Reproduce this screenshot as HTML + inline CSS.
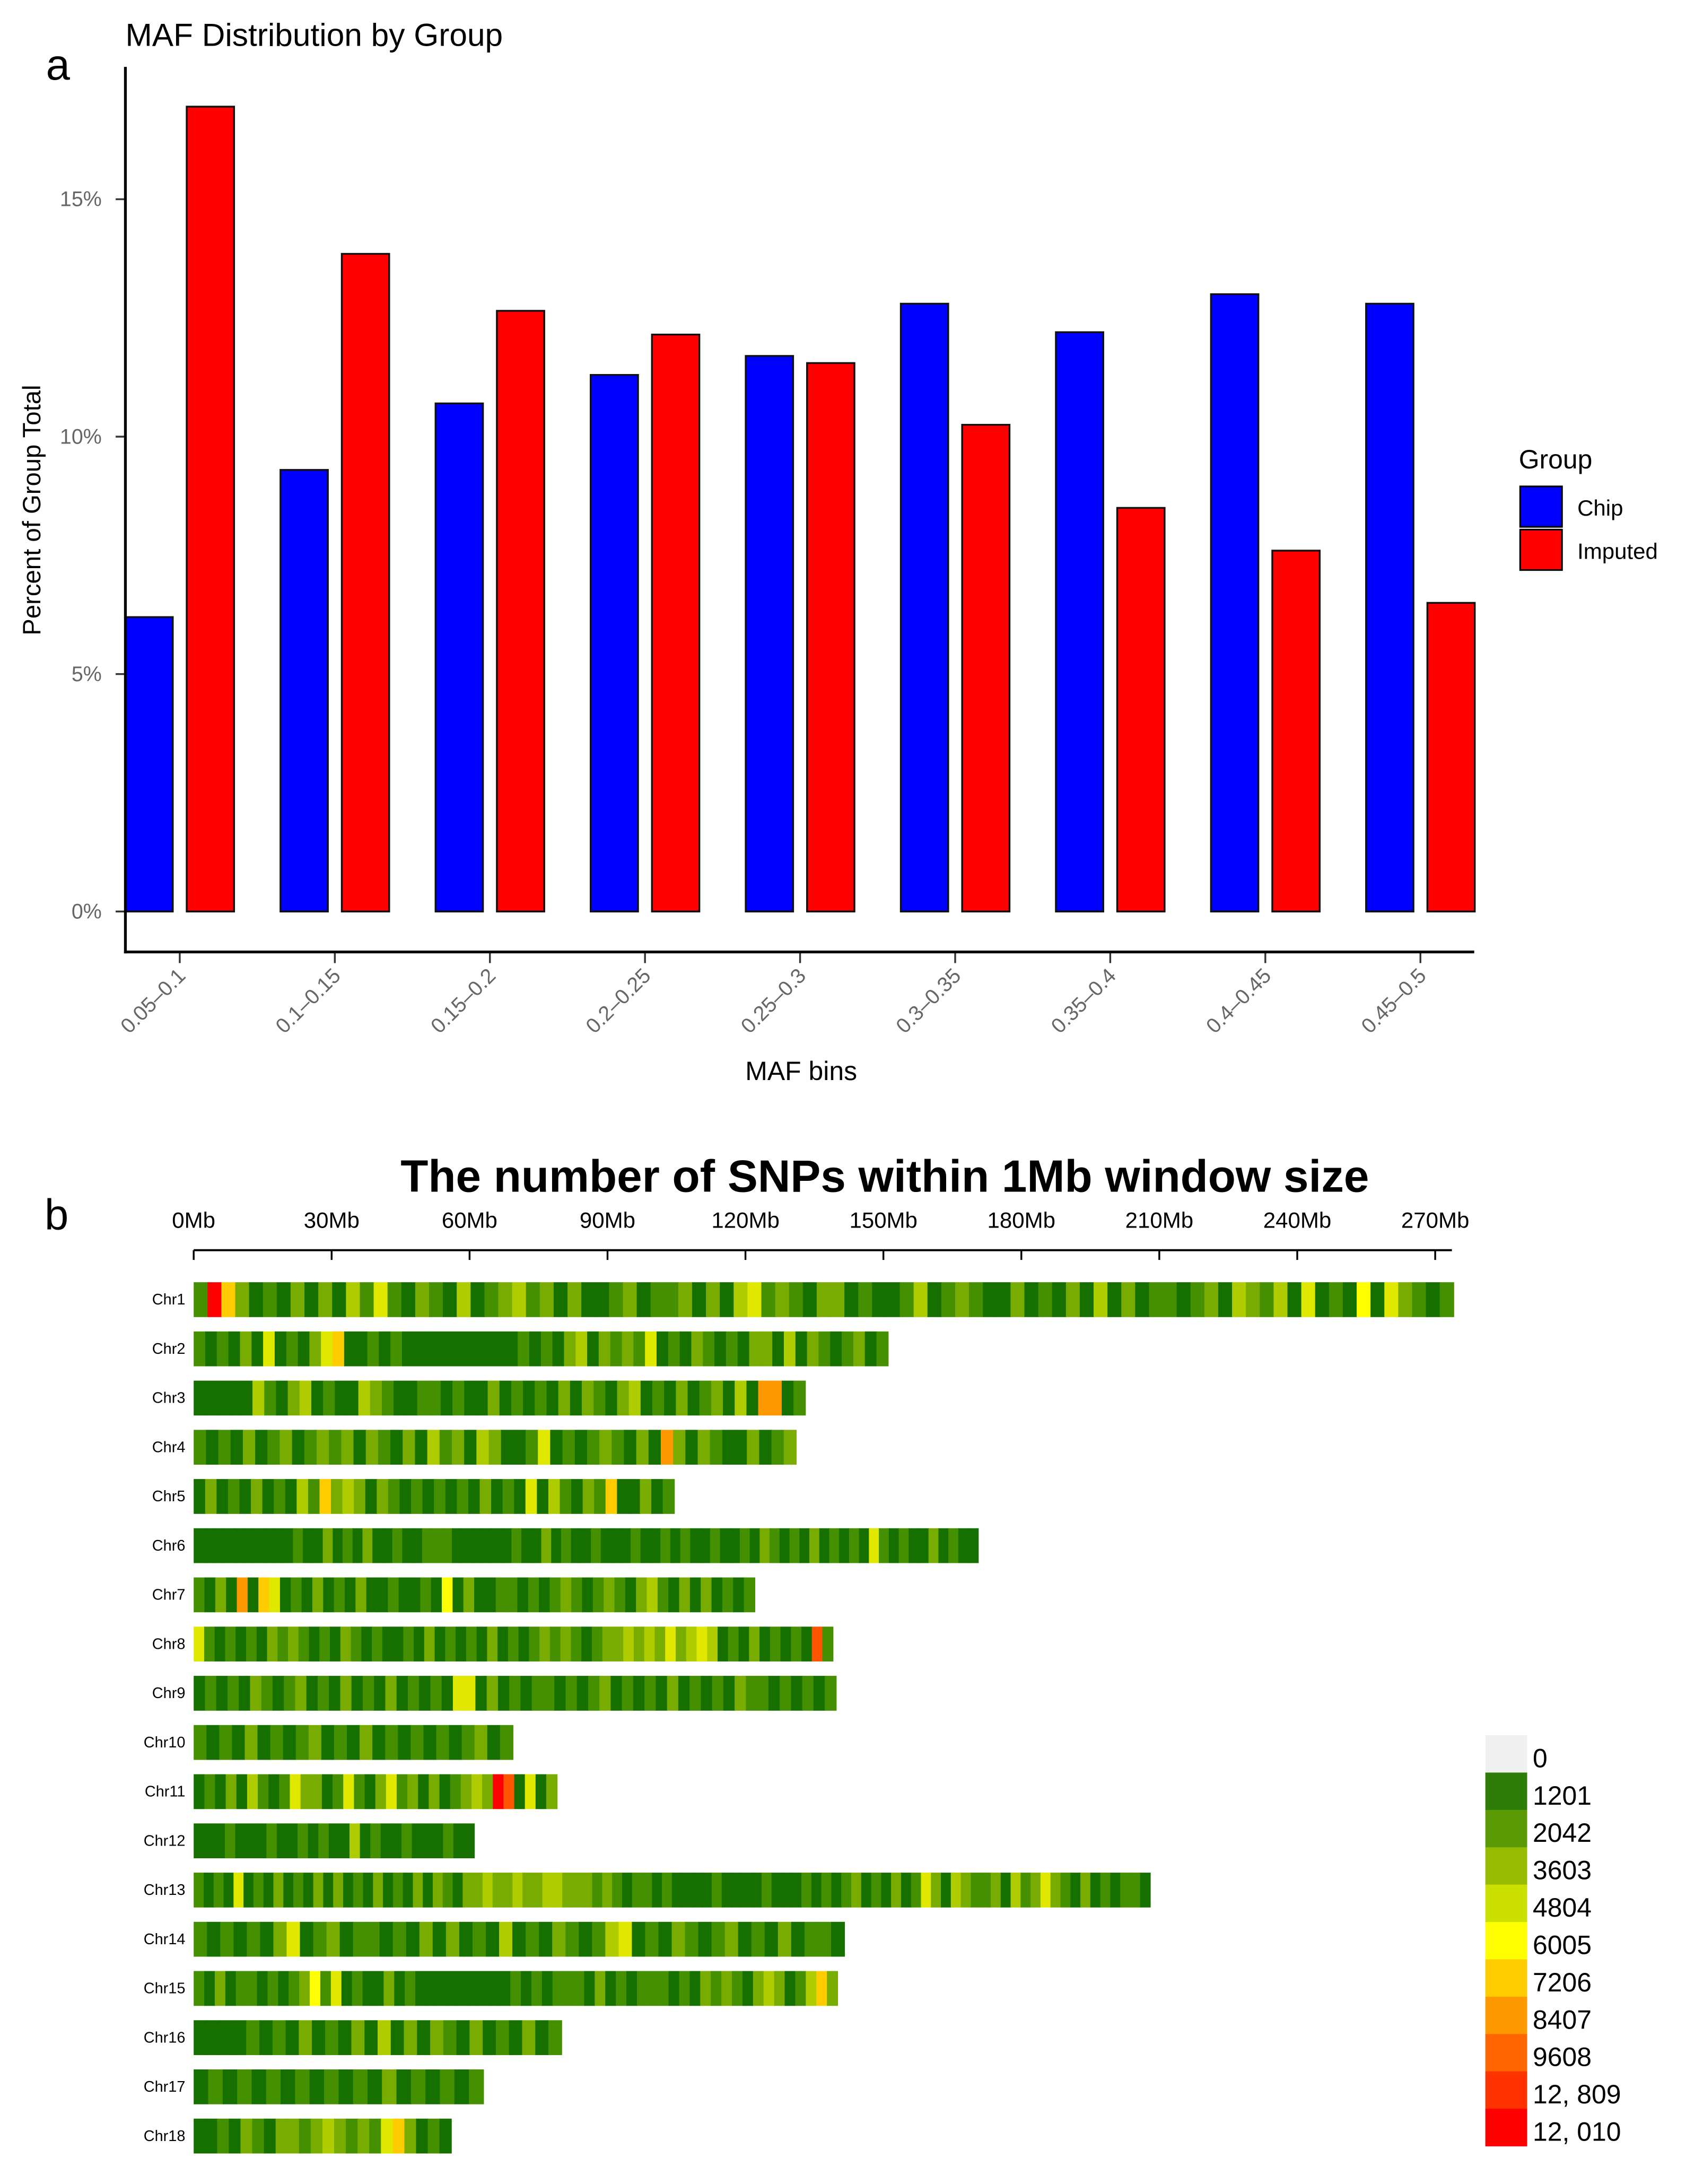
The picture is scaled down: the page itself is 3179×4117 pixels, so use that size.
<!DOCTYPE html>
<html><head><meta charset="utf-8"><style>
html,body{margin:0;padding:0;background:#fff;}
svg{display:block;font-family:"Liberation Sans",sans-serif;}
</style></head><body>
<svg id="fig" width="3179" height="4117" viewBox="0 0 1210 1567" preserveAspectRatio="none" xmlns="http://www.w3.org/2000/svg">
<g id="pa">
<text x="33" y="57" font-size="31">a</text>
<text x="90" y="33" font-size="23">MAF Distribution by Group</text>
<text transform="translate(29,366) rotate(-90)" text-anchor="middle" font-size="18">Percent of Group Total</text>
<text x="575" y="775" text-anchor="middle" font-size="19">MAF bins</text>
<g id="bars"></g>
<g id="yticks"></g>
<g id="xticks"></g>
<line x1="90" y1="48" x2="90" y2="684" stroke="#000" stroke-width="2"/>
<line x1="89" y1="683" x2="1058" y2="683" stroke="#000" stroke-width="2"/>
<g>
<text x="1090" y="336" font-size="19">Group</text>
<rect x="1091" y="349" width="30" height="29" fill="#0000ff" stroke="#000" stroke-width="1.2"/>
<rect x="1091" y="380" width="30" height="29" fill="#ff0000" stroke="#000" stroke-width="1.2"/>
<text x="1132" y="370" font-size="16">Chip</text>
<text x="1132" y="401" font-size="16">Imputed</text>
</g>
</g>
<g id="pb">
<text x="32" y="882" font-size="31">b</text>
<text x="635" y="855" text-anchor="middle" font-size="32.5" font-weight="bold">The number of SNPs within 1Mb window size</text>
<line x1="139" y1="897" x2="1042" y2="897" stroke="#000" stroke-width="1.5"/>
<g id="mbticks"></g>
<g id="chroms"></g>
<g id="leg2"></g>
</g>
</svg>
<script>
const categories=["0.05–0.1","0.1–0.15","0.15–0.2","0.2–0.25","0.25–0.3","0.3–0.35","0.35–0.4","0.4–0.45","0.45–0.5"];
const chipValues=[6.2,9.3,10.7,11.3,11.7,12.8,12.2,13.0,12.8];
const imputedValues=[16.95,13.85,12.65,12.15,11.55,10.25,8.5,7.6,6.5];
const yTickValues=[0,5,10,15];
const yTickLabels=["0%","5%","10%","15%"];

const chromNames=["Chr1","Chr2","Chr3","Chr4","Chr5","Chr6","Chr7","Chr8","Chr9","Chr10","Chr11","Chr12","Chr13","Chr14","Chr15","Chr16","Chr17","Chr18"];
const chromLengthsMb=[274,151,133,131,104.5,170.6,122,139,139.7,69.4,79,61,208,141.5,140,80,63,56];
const chromLevels=[
"2a73121313142521321412342313112312231314523213312112412321131213141312212314324151216153212",
"212131512135711212111111111121213413232512132121331413212312",
"1111142134121143211221211312121313213412131231418812",
"2121312312323132131423143112512123213183132113123",
"131213121427343132121212131215142132711312",
"1111111111211312131121122211111121131211211121121211211213212131212152121131211",
"2131817512131213112112161311221212321232134213131212",
"5212121323212132121121312121312123232123343435345412131212192",
"121213212312131213121215513121221212312121312121322121212",
"2121312123121312121212312",
"1213142125331252135231312343a91513",
"111211121121211412112111211",
"212151213121313121312131321334334334433323212212111121111211121212312131253143223142353213121221",
"2121213512312212131312141213212451213212312131221",
"2131221212362512113121111111112121222131212221213232134312473",
"1111212131213141313213121312",
"12121212121213121212",
"1121321332343232573121"];
const mbTickValues=[0,30,60,90,120,150,180,210,240,270];
const legendLabels=["0","1201","2042","3603","4804","6005","7206","8407","9608","12, 809","12, 010"];

const NS="http://www.w3.org/2000/svg";
function mk(tag,attrs,parent,text){const e=document.createElementNS(NS,tag);for(const k in attrs)e.setAttribute(k,attrs[k]);if(text!==undefined)e.textContent=text;parent.appendChild(e);return e;}
const y0=654, pxPerPct=34.07;
function yScale(v){return y0-v*pxPerPct;}
const groupStart=129, groupPitch=111.3, barW=34, barGap=10;
function xCenter(i){return groupStart+i*groupPitch;}
const bars=document.getElementById('bars');
categories.forEach((c,i)=>{
  const cx=xCenter(i);
  const b1=mk('rect',{x:cx-barGap/2-barW,y:yScale(chipValues[i]),width:barW,height:yScale(0)-yScale(chipValues[i]),fill:'#0000ff',stroke:'#111','stroke-width':1.3},bars);
  
  
  const b2=mk('rect',{x:cx+barGap/2,y:yScale(imputedValues[i]),width:barW,height:yScale(0)-yScale(imputedValues[i]),fill:'#ff0000',stroke:'#111','stroke-width':1.3},bars);
  
  
});
const yt=document.getElementById('yticks');
yTickValues.forEach((v,i)=>{
  const y=yScale(v);
  const l=mk('line',{x1:83,y1:y,x2:90,y2:y,stroke:'#333','stroke-width':1.3},yt);
  
  
  const t=mk('text',{x:73,y:y+5,'text-anchor':'end','font-size':15,fill:'#666'},yt,yTickLabels[i]);
  
  
});
const xt=document.getElementById('xticks');
categories.forEach((c,i)=>{
  const x=xCenter(i);
  const l=mk('line',{x1:x,y1:683,x2:x,y2:691,stroke:'#333','stroke-width':1.3},xt);
  
  
  const t=mk('text',{transform:'translate('+(x+5)+',701) rotate(-45)','text-anchor':'end','font-size':15,fill:'#666'},xt,c);
  
  
});
const mbX0=139, pxPerMb=3.3;
function mbScale(v){return mbX0+v*pxPerMb;}
const mt=document.getElementById('mbticks');
mbTickValues.forEach(v=>{
  const x=mbScale(v);
  const l=mk('line',{x1:x,y1:897,x2:x,y2:904,stroke:'#000','stroke-width':1.3},mt);
  
  
  const t=mk('text',{x:x,y:881,'text-anchor':'middle','font-size':16},mt,v+'Mb');
  
  
});
const levelColors=['#f0f0f0','#167000','#449000','#78ac00','#aecc00','#e0e800','#ffff00','#ffcc00','#ff9900','#ff5500','#ff0000'];
const legendColors=['#f0f0f0','#2e7d06','#5a9a04','#95bc00','#cce000','#ffff00','#ffcc00','#ff9900','#ff6600','#ff3300','#ff0000'];
const rowY0=920, rowPitch=35.3, rowH=25;
const ch=document.getElementById('chroms');
chromNames.forEach((name,r)=>{
  const y=rowY0+r*rowPitch;
  const t=mk('text',{x:133,y:y+16,'text-anchor':'end','font-size':11},ch,name);
  
  
  const g=mk('g',{},ch);
  
  
  const s=chromLevels[r], n=s.length, bw=chromLengthsMb[r]/n;
  for(let k=0;k<n;k++){
    const lv=parseInt(s[k],16);
    const xa=mbScale(k*bw), xb=mbScale((k+1)*bw);
    const c=mk('rect',{x:xa,y:y,width:xb-xa+0.4,height:rowH,fill:levelColors[lv]},g);
    
    
  }
});
const lg=document.getElementById('leg2');
legendLabels.forEach((lab,i)=>{
  const y=1245+i*26.8;
  const r=mk('rect',{x:1066,y:y,width:30,height:27,fill:legendColors[i]},lg);
  
  
  const t=mk('text',{x:1100,y:y+23,'font-size':19},lg,lab);
  
  
});
</script>
</body></html>
